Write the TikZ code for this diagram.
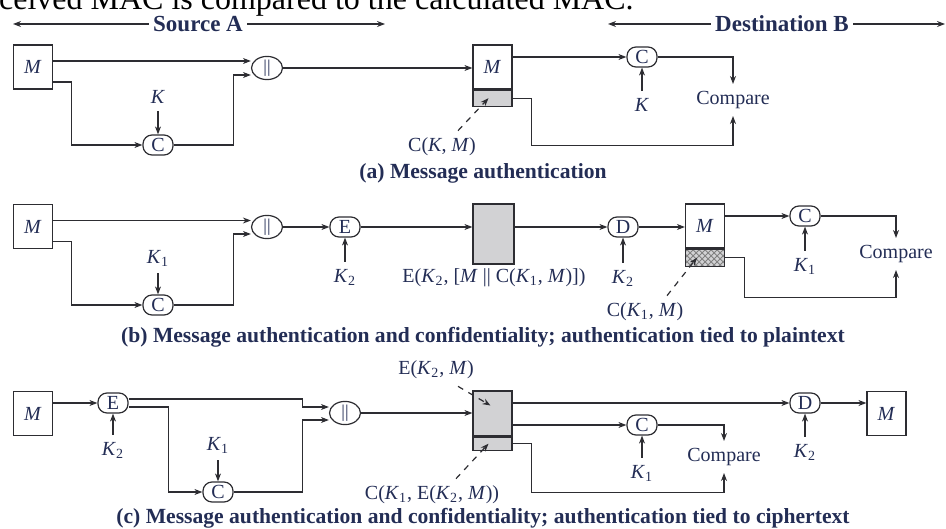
\documentclass[tikz,border=0pt]{standalone}
\usepackage{fontspec}
\setmainfont{Liberation Serif}
\usetikzlibrary{arrows.meta,patterns,shapes.geometric}
\definecolor{inkblue}{RGB}{35,45,85}
\definecolor{linecol}{RGB}{45,45,50}
\definecolor{macgray}{RGB}{210,210,212}
\newcommand{\keyK}[1]{\textit{K}\textsubscript{#1}}
\begin{document}
\begin{tikzpicture}[x=0.5pt,y=-0.5pt,>={Stealth[length=4pt,width=3pt]},line width=0.6pt,draw=linecol,
  every node/.style={text=inkblue,font=\fontsize{10}{12}\selectfont},
  box/.style={draw,minimum width=19.5pt,minimum height=22pt,inner sep=0pt},
  op/.style={draw,rounded corners=4.5pt,minimum width=15pt,minimum height=10pt,inner sep=0pt},
  joinop/.style={draw,ellipse,minimum width=15.5pt,minimum height=10pt,inner sep=0pt,font=\fontsize{9}{9}\selectfont},
  tag/.style={draw,fill=macgray,minimum width=19.5pt,inner sep=0pt,anchor=north},
  figcap/.style={font=\fontsize{10.8}{13}\selectfont\bfseries},
  side/.style={font=\fontsize{11.5}{14}\selectfont\bfseries,inner sep=2pt}]
\useasboundingbox (0,0) rectangle (946,529);
\node[anchor=base west,text=black,font=\fontsize{16}{19}\selectfont] (topline) at (-33,10) {received MAC is compared to the calculated MAC.};
\node[side] (src) at (198,24) {Source A};
\coordinate (srcl) at (13,24); \coordinate (srcr) at (385,24);
\draw[->] (src) -- (srcl); \draw[->] (src) -- (srcr);
\node[side] (dst) at (782,24) {Destination B};
\coordinate (dstl) at (608,24); \coordinate (dstr) at (945,24);
\draw[->] (dst) -- (dstl); \draw[->] (dst) -- (dstr);
% (a)
\node[box] (ma) at (33,67) {\textit{M}};
\node[joinop] (cata) at (267,68) {||};
\node[op] (ca) at (158,145) {C};
\node (ka) at (158,97) {\textit{K}};
\draw[->] ([yshift=3pt]ma.east) -- ([yshift=3pt]ma.east -| cata.west);
\draw[->] ([yshift=-7.5pt]ma.east) -- ++(18,0) |- (ca);
\draw[->] (ca.east) -- ++(60,0) |- ([yshift=-3.5pt]cata.west);
\draw[->] (ka) -- (ca);
\node[box] (ra) at (492.5,67) {\textit{M}};
\node[tag,minimum height=8pt] (rta) at (ra.south) {};
\draw[->] (cata) -- (cata -| ra.west);
\node[op] (cda) at (642,57) {C};
\node (kda) at (642,105) {\textit{K}};
\draw[->] (ra.east |- cda) -- (cda);
\draw[->] (kda) -- (cda);
\node (cmpa) at (733,100) {Compare};
\draw[->] (cda) -| (cmpa);
\draw[->] (rta.east) -- ++(19,0) -- ++(0,47) -| (cmpa);
\node (lbla) at (442,147) {C(\textit{K}, \textit{M})};
\draw[->,dashed] ([xshift=8pt]lbla.north) -- ([xshift=-2pt]rta.center);
\node[figcap] (capa) at (483,173) {(a) Message authentication};
% (b)
\node[box] (mb) at (33,226.5) {\textit{M}};
\node[joinop] (catb) at (267,227) {||};
\node[op] (cb) at (158,305) {C};
\node (kb) at (158,258) {\keyK{1}};
\draw[->] ([yshift=3pt]mb.east) -- ([yshift=3pt]mb.east -| catb.west);
\draw[->] ([yshift=-7.5pt]mb.east) -- ++(18,0) |- (cb);
\draw[->] (cb.east) -- ++(60,0) |- ([yshift=-3.5pt]catb.west);
\draw[->] (kb) -- (cb);
\node[op] (eb) at (345,227) {E};
\node (keb) at (345,277) {\keyK{2}};
\draw[->] (catb) -- (eb); \draw[->] (keb) -- (eb);
\node[draw,fill=macgray,minimum width=20.5pt,minimum height=30pt,inner sep=0pt] (gb) at (493.5,234) {};
\draw[->] (eb) -- (eb -| gb.west);
\node (lblb) at (494,278) {E(\keyK{2}, [\textit{M} || C(\keyK{1}, \textit{M})])};
\node[op] (db) at (623,227) {D};
\node (kdb) at (623,278) {\keyK{2}};
\draw[->] (gb.east |- db) -- (db); \draw[->] (kdb) -- (db);
\node[box] (rb) at (705,226) {\textit{M}};
\node[tag,minimum height=8.5pt,preaction={fill=macgray},pattern=crosshatch,pattern color=gray] (rtb) at (rb.south) {};
\draw[->] (db) -- (db -| rb.west);
\node[op] (cdb) at (805,216) {C};
\node (kcb) at (805,266) {\keyK{1}};
\draw[->] (rb.east |- cdb) -- (cdb); \draw[->] (kcb) -- (cdb);
\node (cmpb) at (896,254) {Compare};
\draw[->] (cdb) -| (cmpb);
\draw[->] (rtb.east) -- ++(19,0) -- ++(0,40) -| (cmpb);
\node (lblb2) at (645,312) {C(\keyK{1}, \textit{M})};
\draw[->,dashed] ([xshift=11pt]lblb2.north) -- ([xshift=-4pt]rtb.center);
\node[figcap] (capb) at (483,337) {(b) Message authentication and confidentiality; authentication tied to plaintext};
% (c)
\node[box] (mc) at (33,413.5) {\textit{M}};
\node[op] (ec) at (113,403) {E};
\node (kec) at (113,450) {\keyK{2}};
\draw[->] (mc.east |- ec) -- (ec); \draw[->] (kec) -- (ec);
\node[joinop] (catc) at (345,413) {||};
\node[op] (cc) at (218,492) {C};
\node (kcc) at (218,445) {\keyK{1}};
\draw[->] ([yshift=2pt]ec.east) -- ++(174,0) |- ([yshift=3pt]catc.west);
\draw[->] ([yshift=-2pt]ec.east) -- ++(40,0) |- (cc);
\draw[->] (cc.east) -- ++(69,0) |- ([yshift=-3.5pt]catc.west);
\draw[->] (kcc) -- (cc);
\node[draw,fill=macgray,minimum width=19.5pt,minimum height=22.5pt,inner sep=0pt] (gc) at (492.5,413.5) {};
\node[tag,minimum height=6.5pt] (rtc) at (gc.south) {};
\draw[->] (catc) -- (catc -| gc.west);
\node (lblc1) at (436,370) {E(\keyK{2}, \textit{M})};
\node (lblc2) at (432,495) {C(\keyK{1}, E(\keyK{2}, \textit{M}))};
\draw[->,dashed] ([xshift=11pt]lblc1.south) -- ([xshift=-1pt,yshift=4pt]gc.center);
\draw[->,dashed] ([xshift=12pt]lblc2.north) -- ([xshift=-2pt]rtc.center);
\node[op] (dc) at (805,403) {D};
\node (kdc) at (805,452) {\keyK{2}};
\node[box] (mout) at (886.5,413.5) {\textit{M}};
\draw[->] (gc.east |- dc) -- (dc); \draw[->] (kdc) -- (dc);
\draw[->] (dc) -- (dc -| mout.west);
\node[op] (cdc) at (642,425) {C};
\node (kcdc) at (642,473) {\keyK{1}};
\draw[->] (gc.east |- cdc) -- (cdc); \draw[->] (kcdc) -- (cdc);
\node (cmpc) at (724,457) {Compare};
\draw[->] (cdc) -| (cmpc);
\draw[->] (rtc.east) -- ++(19,0) -- ++(0,49) -| (cmpc);
\node[figcap] (capc) at (483,518) {(c) Message authentication and confidentiality; authentication tied to ciphertext};
\end{tikzpicture}
\end{document}
